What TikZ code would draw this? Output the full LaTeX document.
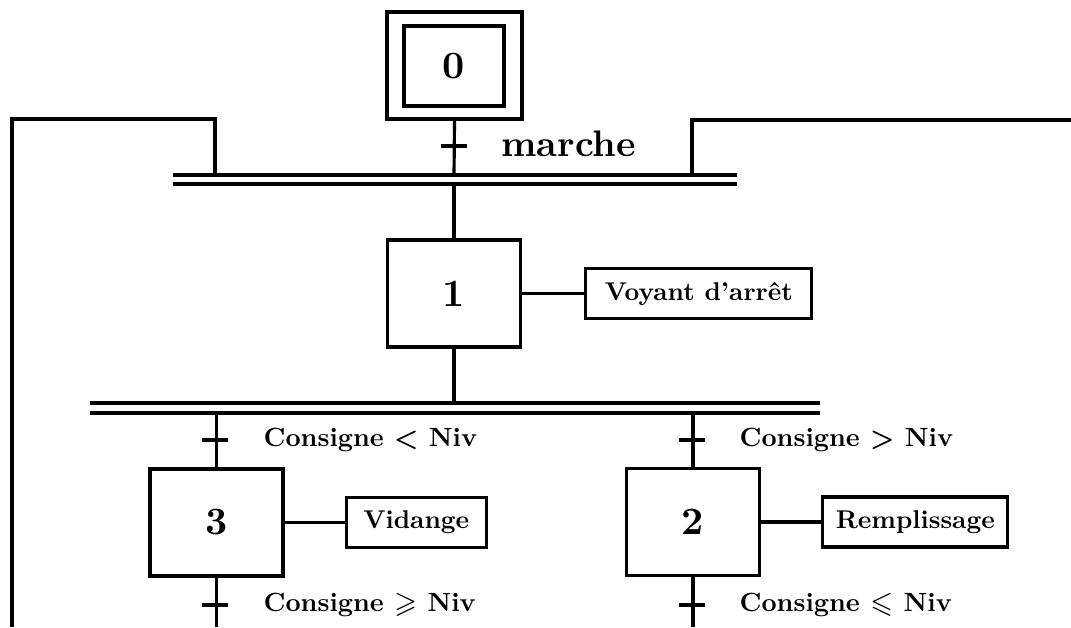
\documentclass[tikz,border=0pt]{standalone}
\usepackage{amssymb}
\usepackage{fontspec}
\setmainfont{lmroman10-regular.otf}[BoldFont=lmroman10-bold.otf]
\usetikzlibrary{positioning}
\tikzset{
  etape/.style={draw, minimum width=1.33cm, minimum height=1.07cm,
    font=\fontsize{11}{13}\selectfont\bfseries},
  action/.style={draw, minimum height=0.5cm, inner sep=2pt,
    font=\fontsize{7.3}{9}\selectfont\bfseries},
  recept/.style={anchor=west, inner sep=0pt, font=\fontsize{7.5}{9}\selectfont\bfseries\boldmath},
}
\begin{document}
\begin{tikzpicture}[x=0.01cm, y=-0.01cm, line width=0.9pt]
    \useasboundingbox (0,0) rectangle (1071,627);

    % etapes
    \node[etape, minimum width=1.35cm, minimum height=1.07cm] (s0) at (454.5,65.5) {};
    \node[etape, minimum width=1.0cm, minimum height=0.8cm] (s0i) at (454,66) {0};
    \node[etape] (s1) at (454,293.5) {1};
    \node[etape] (s3) at (216.5,522.5) {3};
    \node[etape] (s2) at (693,522) {2};

    % actions
    \node[action, minimum width=2.26cm, right=0.62cm of s1] (a1) {Voyant d'arrêt};
    \node[action, minimum width=1.40cm, right=0.60cm of s3] (a3) {Vidange};
    \node[action, minimum width=1.85cm, right=0.60cm of s2] (a2) {Remplissage};
    \draw (s1) -- (a1);
    \draw (s3) -- (a3);
    \draw (s2) -- (a2);

    % doubles barres
    \draw (173,175) -- (737,175);
    \draw (173,184) -- (737,184);
    \draw (90,403) -- (820,403);
    \draw (90,413) -- (820,413);

    \coordinate (h1) at (454,175);
    \coordinate (h2) at (454,184);
    \coordinate (h3) at (454,403);
    \coordinate (g1) at (215,413);
    \coordinate (d1) at (692,413);
    \coordinate (g2) at (215,627);
    \coordinate (d2) at (692,627);

    \draw (s0.south) -- (h1);
    \draw (h2) -- (s1.north);
    \draw (s1.south) -- (h3);
    \draw (g1) -- (g1 -| s3.north) -- (s3.north);
    \draw (d1) -- (d1 -| s2.north) -- (s2.north);
    \draw (s3.south) -- (s3.south |- g2);
    \draw (s2.south) -- (s2.south |- d2);

    % retours
    \draw (215,175) -- (215,119) -- (12,119) -- (12,627);
    \draw (692,175) -- (692,120) -- (1071,120);

    % receptivites
    \coordinate (t0) at (454,146);
    \coordinate (t1) at (215,440);
    \coordinate (t2) at (692,440);
    \coordinate (t3) at (215,605);
    \coordinate (t4) at (692,605);
    \foreach \t in {t0,t1,t2,t3,t4}
        \draw ([xshift=-0.13cm]\t) -- ([xshift=0.13cm]\t);

    \node[recept, font=\fontsize{10.5}{12}\selectfont\bfseries] (r0) at (500,144) {marche};
    \node[recept] (r1) at (262,440) {Consigne $<$ Niv};
    \node[recept] (r2) at (738,440) {Consigne $>$ Niv};
    \node[recept] (r3) at (262,605) {Consigne $\geqslant$ Niv};
    \node[recept] (r4) at (738,605) {Consigne $\leqslant$ Niv};
\end{tikzpicture}
\end{document}
